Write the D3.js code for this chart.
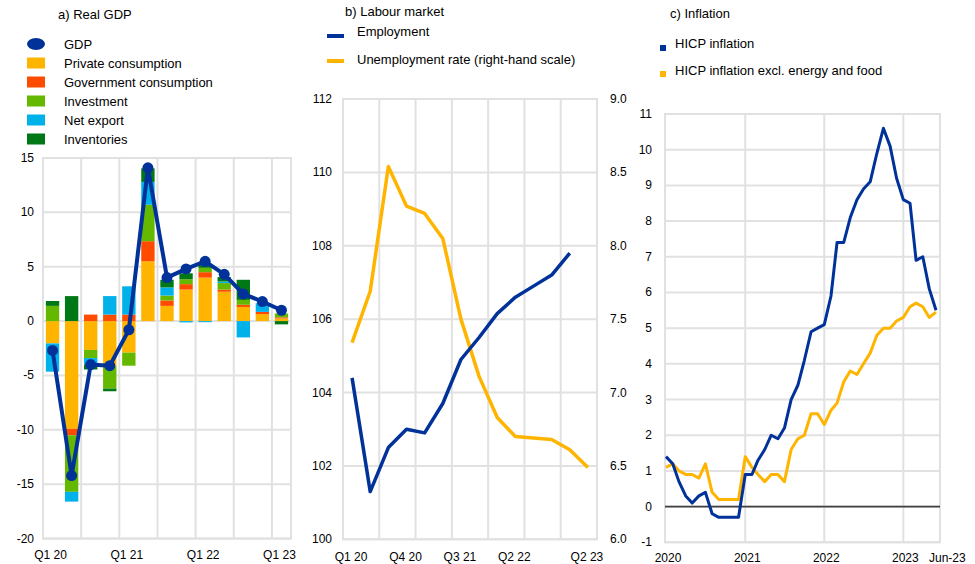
<!DOCTYPE html>
<html>
<head>
<meta charset="utf-8">
<script src="https://cdn.jsdelivr.net/npm/d3@7"></script>
<style>
  html, body { margin: 0; padding: 0; background: #fff; }
  svg { display: block; font-family: "Liberation Sans", Arial, sans-serif; }
  .tick-label { font-size: 12px; fill: #000; }
  .legend-text { font-size: 13px; fill: #000; }
  .title { font-size: 13px; fill: #000; }
</style>
</head>
<body>
<svg id="chart" width="975" height="564"></svg>
<script>
// ---------- a) Real GDP: year-on-year growth and contributions ----------
const gdpQuarters = ["Q1 20","Q2 20","Q3 20","Q4 20","Q1 21","Q2 21","Q3 21","Q4 21","Q1 22","Q2 22","Q3 22","Q4 22","Q1 23"];
const gdpGrowth        = [-2.7, -14.2, -4.0, -4.1, -0.8, 14.1, 4.0, 4.8, 5.5, 4.3, 2.5, 1.8, 1.0];
const privateConsumption = [-2.05, -9.9, -2.65, -4.1, -2.9, 5.5, 1.4, 2.9, 4.0, 2.7, 1.3, 0.65, 0.25];
const governmentConsumption = [0, -0.6, 0.6, 0.6, 0.6, 1.85, 0.5, 0.5, 0.5, 0.2, 0.2, 0.2, 0.1];
const investment       = [1.4, -5.2, -0.75, -2.1, -1.2, 3.35, 0.45, 0.45, 0.4, 0.6, 0.45, 0, 0.35];
const netExport        = [-2.6, -0.9, -0.6, 1.7, 2.6, 2.1, 0.75, -0.12, -0.1, 0.15, -1.5, 0.8, 0];
const inventories      = [0.45, 2.3, -0.45, -0.25, 0, 1.25, 0.7, 0.55, 0.25, 0.4, 1.85, 0, -0.3];
const gdpTickLabels    = ["Q1 20","Q1 21","Q1 22","Q1 23"];
const gdpYTicks        = [15, 10, 5, 0, -5, -10, -15, -20];

// ---------- b) Labour market ----------
const labourQuarters = ["Q1 20","Q2 20","Q3 20","Q4 20","Q1 21","Q2 21","Q3 21","Q4 21","Q1 22","Q2 22","Q3 22","Q4 22","Q1 23","Q2 23"];
const employment   = [104.4, 101.3, 102.5, 103.0, 102.9, 103.7, 104.9, 105.5, 106.15, 106.6, 106.9, 107.2, 107.8];
const unemployment = [7.34, 7.69, 8.54, 8.27, 8.22, 8.05, 7.5, 7.11, 6.83, 6.70, 6.69, 6.68, 6.61, 6.49];
const labourTickLabels = ["Q1 20","Q4 20","Q3 21","Q2 22","Q2 23"];
const employmentTicks  = [112, 110, 108, 106, 104, 102, 100];
const unemploymentTicks = [9.0, 8.5, 8.0, 7.5, 7.0, 6.5, 6.0];

// ---------- c) Inflation (monthly, Jan 2020 - Jun 2023) ----------
const hicp = [
  1.4, 1.2, 0.7, 0.3, 0.1, 0.3, 0.4, -0.2, -0.3, -0.3, -0.3, -0.3,
  0.9, 0.9, 1.3, 1.6, 2.0, 1.9, 2.2, 3.0, 3.4, 4.1, 4.9, 5.0,
  5.1, 5.9, 7.4, 7.4, 8.1, 8.6, 8.9, 9.1, 9.9, 10.6, 10.1, 9.2,
  8.6, 8.5, 6.9, 7.0, 6.1, 5.5
];
const hicpCore = [
  1.1, 1.2, 1.0, 0.9, 0.9, 0.8, 1.2, 0.4, 0.2, 0.2, 0.2, 0.2,
  1.4, 1.1, 0.9, 0.7, 0.9, 0.9, 0.7, 1.6, 1.9, 2.0, 2.6, 2.6,
  2.3, 2.7, 2.9, 3.5, 3.8, 3.7, 4.0, 4.3, 4.8, 5.0, 5.0, 5.2,
  5.3, 5.6, 5.7, 5.6, 5.3, 5.45
];
const inflationYTicks = [11,10,9,8,7,6,5,4,3,2,1,0,-1];
const inflationYearTicks = ["2020","2021","2022","2023"];
const inflationEndLabel = "Jun-23";

// ---------- shared styling ----------
const BLUE = "#003299", YELLOW = "#ffb400", RED = "#ff4b00",
      GREEN = "#65b800", CYAN = "#00b1ea", DKGREEN = "#007816";
const GRID = "#e1e1e1";

const svg = d3.select("#chart");

function gridFrame(g, x0, x1, y0, y1) {
  g.append("rect").attr("x", x0).attr("y", y0).attr("width", x1 - x0).attr("height", y1 - y0)
    .attr("fill", "none").attr("stroke", GRID).attr("stroke-width", 2);
}

/* ================= Panel a ================= */
{
  const L = 43, R = 291, T = 158, B = 538.6;
  const g = svg.append("g");
  const x = d3.scaleBand().domain(gdpQuarters).range([L, R]).paddingInner(0.3).paddingOuter(0.15);
  const y = d3.scaleLinear().domain([-20, 15]).range([B, T]);

  // horizontal grid
  g.selectAll(".hg").data(gdpYTicks).join("line")
    .attr("x1", L).attr("x2", R).attr("y1", d => y(d)).attr("y2", d => y(d))
    .attr("stroke", GRID).attr("stroke-width", 2);
  // vertical grid every second quarter boundary
  const step = x.step();
  g.selectAll(".vg").data(gdpQuarters.filter((d, i) => i % 2 === 1 && i < gdpQuarters.length - 1)).join("line")
    .attr("x1", d => x(d) + x.bandwidth() + (step - x.bandwidth()) / 2)
    .attr("x2", d => x(d) + x.bandwidth() + (step - x.bandwidth()) / 2)
    .attr("y1", T).attr("y2", B).attr("stroke", GRID).attr("stroke-width", 2);
  gridFrame(g, L, R, T, B);

  // stacked contributions
  const keys = ["private", "gov", "inv", "net", "invent"];
  const colors = { private: YELLOW, gov: RED, inv: GREEN, net: CYAN, invent: DKGREEN };
  const rows = gdpQuarters.map((q, i) => ({
    q, private: privateConsumption[i], gov: governmentConsumption[i],
    inv: investment[i], net: netExport[i], invent: inventories[i]
  }));
  const series = d3.stack().keys(keys).offset(d3.stackOffsetDiverging)(rows);
  g.selectAll(".series").data(series).join("g").attr("fill", d => colors[d.key])
    .selectAll("rect").data(d => d).join("rect")
    .attr("x", d => x(d.data.q)).attr("width", x.bandwidth())
    .attr("y", d => y(Math.max(d[0], d[1])))
    .attr("height", d => Math.abs(y(d[0]) - y(d[1])));

  // GDP line and markers
  const cx = q => x(q) + x.bandwidth() / 2;
  g.append("path").datum(gdpGrowth)
    .attr("d", d3.line().x((d, i) => cx(gdpQuarters[i])).y(d => y(d)))
    .attr("fill", "none").attr("stroke", BLUE).attr("stroke-width", 4).attr("stroke-linejoin", "round");
  g.selectAll(".dot").data(gdpGrowth).join("circle")
    .attr("cx", (d, i) => cx(gdpQuarters[i])).attr("cy", d => y(d)).attr("r", 5.5).attr("fill", BLUE);

  // axes labels
  g.selectAll(".yl").data(gdpYTicks).join("text").attr("class", "tick-label")
    .attr("x", 34).attr("y", d => y(d) + 4).attr("text-anchor", "end").text(d => d);
  g.selectAll(".xl").data(gdpTickLabels).join("text").attr("class", "tick-label")
    .attr("x", d => cx(d) - 2).attr("y", 559).attr("text-anchor", "middle").text(d => d);

  // title and legend
  g.append("text").attr("class", "title").attr("x", 58).attr("y", 19).text("a) Real GDP");
  const leg = [
    { label: "GDP", type: "dot", color: BLUE },
    { label: "Private consumption", color: YELLOW },
    { label: "Government consumption", color: RED },
    { label: "Investment", color: GREEN },
    { label: "Net export", color: CYAN },
    { label: "Inventories", color: DKGREEN }
  ];
  leg.forEach((d, i) => {
    const cy = 44 + i * 19;
    if (d.type === "dot") {
      g.append("ellipse").attr("cx", 36).attr("cy", cy).attr("rx", 9).attr("ry", 6).attr("fill", d.color);
    } else {
      g.append("rect").attr("x", 27).attr("y", cy - 5.5).attr("width", 18).attr("height", 11).attr("fill", d.color);
    }
    g.append("text").attr("class", "legend-text").attr("x", 64).attr("y", cy + 4.5).text(d.label);
  });
}

/* ================= Panel b ================= */
{
  const L = 343, R = 597, T = 99, B = 539.3;
  const g = svg.append("g");
  const x = d3.scalePoint().domain(labourQuarters).range([L, R]).padding(0.5);
  const yL = d3.scaleLinear().domain([100, 112]).range([B, T]);
  const yR = d3.scaleLinear().domain([6, 9]).range([B, T]);
  const step = x.step();

  g.selectAll(".hg").data(employmentTicks).join("line")
    .attr("x1", L).attr("x2", R).attr("y1", d => yL(d)).attr("y2", d => yL(d))
    .attr("stroke", GRID).attr("stroke-width", 2);
  g.selectAll(".vg").data(labourQuarters.filter((d, i) => i % 2 === 1 && i < labourQuarters.length - 1)).join("line")
    .attr("x1", d => x(d) + step / 2).attr("x2", d => x(d) + step / 2)
    .attr("y1", T).attr("y2", B).attr("stroke", GRID).attr("stroke-width", 2);
  gridFrame(g, L, R, T, B);

  g.append("path").datum(unemployment)
    .attr("d", d3.line().x((d, i) => x(labourQuarters[i])).y(d => yR(d)))
    .attr("fill", "none").attr("stroke", YELLOW).attr("stroke-width", 3.5).attr("stroke-linejoin", "round");
  g.append("path").datum(employment)
    .attr("d", d3.line().x((d, i) => x(labourQuarters[i])).y(d => yL(d)))
    .attr("fill", "none").attr("stroke", BLUE).attr("stroke-width", 3.5).attr("stroke-linejoin", "round");

  g.selectAll(".yl").data(employmentTicks).join("text").attr("class", "tick-label")
    .attr("x", 332).attr("y", d => yL(d) + 4).attr("text-anchor", "end").text(d => d);
  g.selectAll(".yr").data(unemploymentTicks).join("text").attr("class", "tick-label")
    .attr("x", 610).attr("y", d => yR(d) + 4).attr("text-anchor", "start").text(d => d.toFixed(1));
  g.selectAll(".xl").data(labourTickLabels).join("text").attr("class", "tick-label")
    .attr("x", d => x(d) - 1).attr("y", 561).attr("text-anchor", "middle").text(d => d);

  g.append("text").attr("class", "title").attr("x", 345).attr("y", 16).text("b) Labour market");
  [{ label: "Employment", color: BLUE, cy: 36, ty: 36 },
   { label: "Unemployment rate (right-hand scale)", color: YELLOW, cy: 61, ty: 64 }].forEach(d => {
    g.append("line").attr("x1", 327).attr("x2", 344).attr("y1", d.cy).attr("y2", d.cy)
      .attr("stroke", d.color).attr("stroke-width", 4);
    g.append("text").attr("class", "legend-text").attr("x", 357).attr("y", d.ty).text(d.label);
  });
}

/* ================= Panel c ================= */
{
  const L = 665, R = 940, T = 114, B = 542.3;
  const g = svg.append("g");
  const months = hicp.map((d, i) => new Date(Date.UTC(2020, i, 1)));
  const x = d3.scaleUtc().domain([months[0], months[months.length - 1]]).range([666, 936]);
  const y = d3.scaleLinear().domain([-1, 11]).range([B, T]);

  g.selectAll(".hg").data(inflationYTicks).join("line")
    .attr("x1", L).attr("x2", R).attr("y1", d => y(d)).attr("y2", d => y(d))
    .attr("stroke", GRID).attr("stroke-width", 2);
  const yearDates = inflationYearTicks.map(d => new Date(Date.UTC(+d, 0, 1)));
  g.selectAll(".vg").data(yearDates.slice(1)).join("line")
    .attr("x1", d => x(d)).attr("x2", d => x(d)).attr("y1", T).attr("y2", B)
    .attr("stroke", GRID).attr("stroke-width", 2);
  gridFrame(g, L, R, T, B);
  g.append("line").attr("x1", L).attr("x2", R).attr("y1", y(0)).attr("y2", y(0))
    .attr("stroke", "#404040").attr("stroke-width", 1.6);

  const line = d3.line().x((d, i) => x(months[i])).y(d => y(d));
  g.append("path").datum(hicpCore).attr("d", line)
    .attr("fill", "none").attr("stroke", YELLOW).attr("stroke-width", 3).attr("stroke-linejoin", "round");
  g.append("path").datum(hicp).attr("d", line)
    .attr("fill", "none").attr("stroke", BLUE).attr("stroke-width", 3).attr("stroke-linejoin", "round");

  g.selectAll(".yl").data(inflationYTicks).join("text").attr("class", "tick-label")
    .attr("x", 652).attr("y", d => y(d) + 4).attr("text-anchor", "end").text(d => d);
  g.selectAll(".xl").data(inflationYearTicks).join("text").attr("class", "tick-label")
    .attr("x", (d, i) => x(yearDates[i]) + 2).attr("y", 562).attr("text-anchor", "middle").text(d => d);
  g.append("text").attr("class", "tick-label")
    .attr("x", x(months[months.length - 1]) - 7).attr("y", 562).attr("text-anchor", "start").text(inflationEndLabel);

  g.append("text").attr("class", "title").attr("x", 670).attr("y", 18).text("c) Inflation");
  [{ label: "HICP inflation", color: BLUE, cy: 48, ty: 48 },
   { label: "HICP inflation excl. energy and food", color: YELLOW, cy: 74, ty: 75 }].forEach(d => {
    g.append("rect").attr("x", 660).attr("y", d.cy - 3).attr("width", 6).attr("height", 6).attr("fill", d.color);
    g.append("text").attr("class", "legend-text").attr("x", 675).attr("y", d.ty).text(d.label);
  });
}
</script>
</body>
</html>
